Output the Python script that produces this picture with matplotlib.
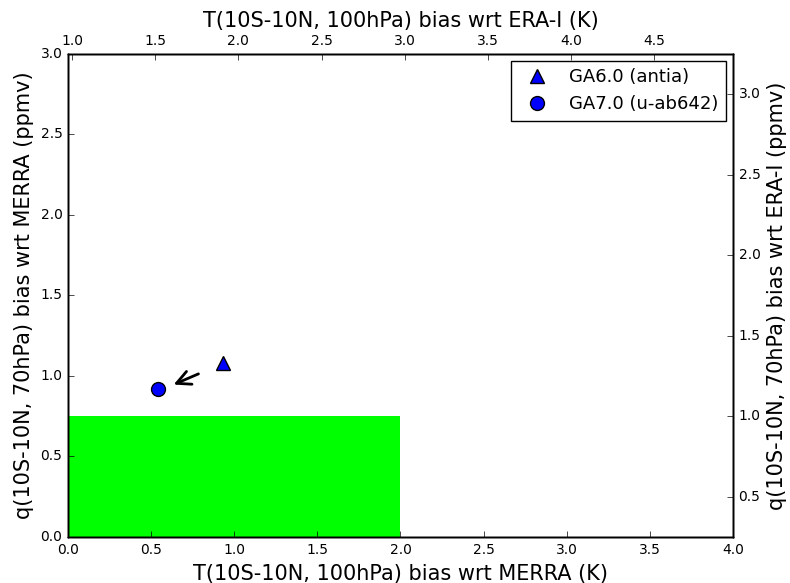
import matplotlib
matplotlib.use('Agg')
import matplotlib.pyplot as plt
import numpy as np

# bias values (K for T, ppmv for q)
RUN_NAMES = ['GA6.0 (antia)', 'GA7.0 (u-ab642)']
RUN_MARKERS = ['^', 'o']
T_BIAS_MERRA = [0.93, 0.54]
Q_BIAS_MERRA = [1.08, 0.92]

# acceptable region wrt MERRA
T_TARGET = 2.0
Q_TARGET = 0.75

# ranges of the ERA-I axes
T_ERAI_LIM = (0.975, 4.975)
Q_ERAI_LIM = (0.25, 3.25)

plt.style.use('classic')
plt.rcParams['figure.facecolor'] = 'white'
plt.rcParams['font.family'] = 'DejaVu Sans'

fig = plt.figure(figsize=(7.9, 5.83), dpi=100)
ax = fig.add_axes([0.0861, 0.0789, 0.8417, 0.8285])

ax.fill_between([0, T_TARGET], 0, Q_TARGET, color='#00ff00', lw=0, zorder=1)

handles = []
for name, mk, t, q in zip(RUN_NAMES, RUN_MARKERS, T_BIAS_MERRA, Q_BIAS_MERRA):
    h, = ax.plot([t], [q], linestyle='none', marker=mk, markersize=10,
                 markerfacecolor='blue', markeredgecolor='black',
                 markeredgewidth=1, label=name, zorder=3)
    handles.append(h)

# point from old to new run
ax.annotate('', xy=(T_BIAS_MERRA[1] + 0.08, Q_BIAS_MERRA[1] + 0.02),
            xytext=(T_BIAS_MERRA[0] - 0.13, Q_BIAS_MERRA[0] - 0.06),
            arrowprops=dict(arrowstyle='->', color='black', lw=2,
                            mutation_scale=25))

LABEL_SIZE = 15

ax.set_xlim(0, 4)
ax.set_ylim(0, 3)
ax.set_xticks(np.arange(0, 4.01, 0.5))
ax.set_yticks(np.arange(0, 3.01, 0.5))
ax.set_xlabel('T(10S-10N, 100hPa) bias wrt MERRA (K)', fontsize=LABEL_SIZE)
ax.set_ylabel('q(10S-10N, 70hPa) bias wrt MERRA (ppmv)', fontsize=LABEL_SIZE)
ax.tick_params(labelsize=10, direction='in', top=False, right=False)

ax_top = ax.twiny()
ax_top.set_xlim(*T_ERAI_LIM)
ax_top.set_xticks(np.arange(1.0, 4.51, 0.5))
ax_top.set_xlabel('T(10S-10N, 100hPa) bias wrt ERA-I (K)', fontsize=LABEL_SIZE)
ax_top.tick_params(labelsize=10, direction='in', bottom=False)

ax_right = ax_top.twinx()
ax_right.set_ylim(*Q_ERAI_LIM)
ax_right.set_yticks(np.arange(0.5, 3.01, 0.5))
ax_right.set_ylabel('q(10S-10N, 70hPa) bias wrt ERA-I (ppmv)', fontsize=LABEL_SIZE)
ax_right.tick_params(labelsize=10, direction='in', left=False)

leg = ax_right.legend(handles, RUN_NAMES, loc='upper right', numpoints=1,
                      fontsize=13, fancybox=False, frameon=True,
                      borderaxespad=0.4)
leg.get_frame().set_edgecolor('black')

fig.savefig('out.png', dpi=100)
